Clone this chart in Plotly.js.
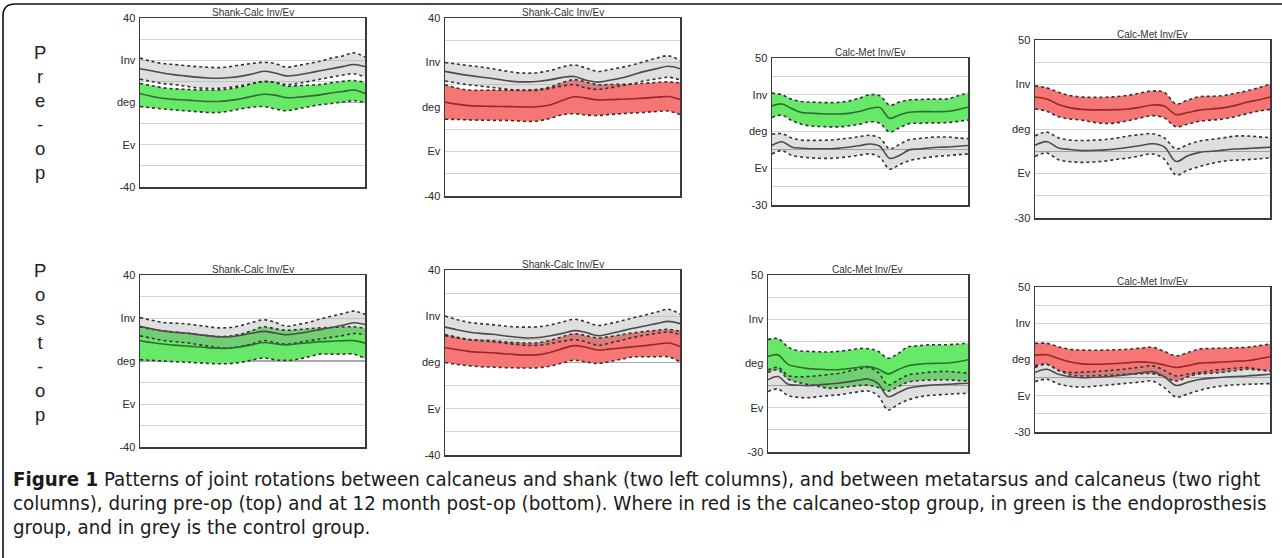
<!DOCTYPE html>
<html><head><meta charset="utf-8">
<script src="https://cdn.plot.ly/plotly-3.0.1.min.js"></script>
<style>html,body{margin:0;padding:0;background:#fff;}#chart{width:1282px;height:558px;}</style>
</head><body><div id="chart"></div>
<script>
// gait cycle (%)
const pct = [0,5,10,15,20,25,30,35,40,45,50,55,60,65,70,75,80,85,90,95,100];

// tick labels
const shankTickVals = [-40,-30,-20,-10,0,10,20,30,40];
const shankTickText = ['-40','','Ev','','deg','','Inv','','40'];
const metTickVals = [-30,-20,-10,0,10,20,30,40,50];
const metTickText = ['-30','','Ev','','deg','','Inv','','50'];

const panelTitles = ['Shank-Calc Inv/Ev','Shank-Calc Inv/Ev','Calc-Met Inv/Ev','Calc-Met Inv/Ev',
                     'Shank-Calc Inv/Ev','Shank-Calc Inv/Ev','Calc-Met Inv/Ev','Calc-Met Inv/Ev'];
const rowLabels = ['Pre-op','Post-op'];

// Panel 1: pre-op, shank-calc, endoprosthesis (green) vs control (grey)
const p1CtrlMean = [16,15,14,13.2,12.6,12,11.6,11.5,11.8,12.5,13.5,14.8,14,12.6,13,14,15,16,17,18,17];
const p1CtrlUp   = [21,19.5,18.5,18,17.5,17,16.7,16.5,17,17.8,18.5,19,18.5,16.7,17.5,18.5,19.5,21,22,23.5,21.5];
const p1CtrlLo   = [11,10,9,8.5,7.8,7,6.7,6.7,7.2,8,9,9.8,9.5,8.5,9,10,11,12,13,13.6,12];
const p1PatMean  = [4.3,3,2,1.5,1.2,0.8,0.5,0.5,1,1.8,3,3.9,3.5,2.3,2.5,3,3.6,4.5,5.2,5.9,4.3];
const p1PatUp    = [9,8,7,6.5,6.2,6,5.9,6,6.5,7.5,9,10,9.5,7.8,8,8.2,8.5,9.3,10,10.4,9.5];
const p1PatLo    = [-1.9,-2.5,-3,-3.5,-3.9,-4.3,-4.7,-4.7,-4,-3,-2.2,-1.9,-3,-3.9,-3,-2,-1.1,-0.5,0.2,0.8,0];

// Panel 2: pre-op, shank-calc, calcaneo-stop (red) vs control
const p2CtrlMean = [16,15,14.2,13.5,12.8,12,11.4,11.3,11.6,12.3,13.3,13.7,12,11.2,12,13,14.5,16,17.2,18.3,17.2];
const p2CtrlUp   = [20,19.3,18.6,18,17.2,16.3,15.5,15.2,15.5,16.5,18,18.9,17.5,16,16.8,17.8,19,20.5,22,23,21];
const p2CtrlLo   = [11.7,10.8,10,9.4,8.8,8.2,7.6,7.4,7.6,8.4,9.5,10,8.6,7.9,8.6,9.5,10.5,11.8,12.6,13.4,12.2];
const p2PatMean  = [2.2,1.3,0.6,0.4,0.3,0.2,0.1,0,0.2,1,3,4.6,4,3.2,3.3,3.5,3.7,4,4.4,4.7,3.4];
const p2PatUp    = [10,8.5,7.6,7.5,7.6,7.6,7.6,7.6,8,9,11,12.3,11.2,10,10.1,10.2,10.3,10.7,11,11.3,10.8];
const p2PatLo    = [-5.5,-5.6,-5.8,-5.9,-6,-6,-6.2,-6.5,-6.2,-5,-3.5,-3,-3.6,-3.8,-3.4,-3,-2.7,-2.4,-2,-1.8,-3.4];

// Panel 3: pre-op, calc-met, endoprosthesis vs control
const p3CtrlMean = [2.4,4.4,1.6,0.9,0.6,0.6,0.6,1,1.6,2.4,3.2,2,-4.6,-3,0,0.5,1,1.4,1.6,2,2.4];
const p3CtrlUp   = [8.5,8.8,6.5,5.3,5.2,5.2,5.4,5.9,6.5,7.3,7.9,6.5,0.6,3,5.5,6.2,6.8,7,7,6.5,6.1];
const p3CtrlLo   = [-2.2,-0.4,-3,-3.9,-4.4,-4.6,-4.6,-4.2,-3.6,-2.8,-2.2,-4,-10.5,-8,-5.9,-4.8,-4,-3.4,-3.1,-2.6,-2.2];
const p3PatMean  = [23.9,25,22.5,20.3,20,19.7,19.5,19.6,20,21,22.5,23,17.2,19,20.5,20.8,20.8,20.8,21,22,23.2];
const p3PatUp    = [30.9,30,27.5,26.3,26,25.8,25.7,26,26.8,28.3,30,29.5,24.4,26,27.2,27.4,27.6,27.6,27.8,29.5,30.9];
const p3PatLo    = [17.6,18.9,16,14,13,12.7,12.5,12.6,13.2,14,15.3,14.5,9.7,12,14.3,14.5,14.7,14.7,14.9,15.5,16.2];

// Panel 4: pre-op, calc-met, calcaneo-stop vs control
const p4CtrlMean = [2.7,4.3,1.5,0.8,0.3,0.4,0.6,1.1,1.8,2.6,3.4,2,-4.6,-2,-0.5,0,0.5,1,1.2,1.5,1.8];
const p4CtrlUp   = [6.9,8.6,6,5,4.8,5,5.3,6,6.9,7.5,7.9,6,1.1,3,4.6,5.3,6,6.8,6.9,6.5,6.1];
const p4CtrlLo   = [-2.3,-0.8,-3.8,-4.7,-5,-4.8,-4.4,-3.6,-3,-2,-1.2,-3.5,-10.7,-8.5,-6.9,-5.5,-4.5,-4,-3.8,-3.4,-3];
const p4PatMean  = [24.4,23.5,21,19.5,18.8,18.6,18.6,18.7,19,19.8,20.8,20.3,16.5,17.4,18.5,19,19.5,20.5,22,23,24.4];
const p4PatUp    = [29.4,28.5,26.5,25,24.4,24.2,24.3,24.6,25.2,26.2,27.1,26.5,21.3,23,24.5,24.7,25,26,27.1,28.5,30.2];
const p4PatLo    = [19,18,15.5,14.5,14,13,12.5,12.8,13.8,15,16,15,11,12.2,13.5,14,14.5,15.5,16.8,18,18.8];

// Panel 5: post-op, shank-calc, endoprosthesis vs control
const p5CtrlMean = [16.2,15,14,13.4,13,12.4,11.8,11.2,11.3,12,13,13.8,13,12.2,12.8,13.6,14.6,15.6,16.6,17.8,17];
const p5CtrlUp   = [20.2,19,18,17.6,17.3,16.7,16,15.4,15.6,16.5,18,19.2,18,16.2,17,18,19.5,20.8,22,23.2,21.7];
const p5CtrlLo   = [11.7,10.6,9.6,9,8.6,7.8,7,6.2,6,6.8,8,9.5,8.6,7.8,8.5,9.4,10.2,11,11.8,12.8,12.2];
const p5PatMean  = [9.5,8.6,7.9,7.4,7,6.6,6.2,5.9,6,6.6,7.6,8.6,8,7.5,8,8.5,9,9.2,9.4,9.5,8.3];
const p5PatUp    = [15.9,14.8,14,13.5,13,12.4,11.8,11.4,11.6,12.6,14.2,15.9,15,14.3,14.6,15,15.4,15.6,15.8,15.9,15.2];
const p5PatLo    = [0.6,0.3,0,-0.3,-0.5,-0.8,-1.1,-1.3,-1.2,-0.6,0.5,1.4,0.6,0.3,0.8,2,3.2,3.2,3.2,3.2,1.1];

// Panel 6: post-op, shank-calc, calcaneo-stop vs control
const p6CtrlMean = [15.3,14.2,13.2,12.6,12.2,11.6,11,10.6,10.8,11.6,12.6,13.8,13,11.6,12.4,13.6,14.8,15.8,16.8,17.8,16.8];
const p6CtrlUp   = [20.1,18.6,17.4,16.8,16.4,15.8,15.4,15.3,15.5,16.3,17.5,18.7,17.6,16,16.8,18,19.3,20.5,21.8,23,20.9];
const p6CtrlLo   = [11.6,10.6,9.9,9.4,9,8.4,7.8,7.4,7.5,8.2,9.2,9.9,9,7.4,8.4,9.6,10.8,11.8,12.6,13.2,12.1];
const p6PatMean  = [6.5,5.6,4.8,4.4,4.2,3.8,3.4,3.2,3.4,4.4,6,7.3,6.6,5.4,5.8,6.3,6.8,7.3,7.9,8.4,6.9];
const p6PatUp    = [12.1,11,10,9.6,9.4,9,8.6,8.4,8.6,9.6,11.2,12.4,11.6,10.6,11.2,12,12.8,13.4,13.9,14.3,13.5];
const p6PatLo    = [0,-0.8,-1.4,-1.8,-2,-2.2,-2.3,-2.4,-2.2,-1.5,-0.2,1,0.2,-0.4,0.4,1.4,2.4,2.5,2.5,2.5,0.3];

// Panel 7: post-op, calc-met, endoprosthesis vs control
const p7CtrlMean = [2.6,4.1,0.6,0.2,0,0.3,0.7,1.1,1.7,2.4,3,1,-5,-3.2,-1.2,-0.4,0.1,0.4,0.6,0.9,1.1];
const p7CtrlUp   = [7.1,8.2,4.6,4,4.1,4.5,5,5.5,6.4,7.4,8.2,6,0.3,2.5,4.8,5.5,6,6.3,6.4,6,5.6];
const p7CtrlLo   = [-2.7,-1.5,-4.5,-5.3,-5.5,-5,-4.5,-4.2,-3.5,-2.8,-2.4,-4.5,-11,-8.5,-6.5,-5.2,-4.5,-4.2,-3.9,-3.6,-3.5];
const p7PatMean  = [13.2,13.9,9.6,8.4,7.7,7.4,7.2,7.2,7.6,8.2,8.6,7.5,5.3,7.2,9,9.6,10,10.1,10.2,10.8,11.7];
const p7PatUp    = [20.8,21.2,17.5,15.8,15.5,15.3,15.2,15.5,16,16.7,16.7,15.5,12.4,14.5,17.5,18,18.4,18.5,18.5,18.8,19.2];
const p7PatLo    = [5.9,7.1,3,1.5,0.5,-0.3,-1.2,-1,-0.5,0,0.2,-0.8,-2.4,-0.5,1.6,2.2,2.5,2.6,2.6,2.3,2.1];

// Panel 8: post-op, calc-met, calcaneo-stop vs control
const p8CtrlMean = [2.8,4.6,1.8,0.5,0,0.2,0.5,1,1.7,2.6,3.3,0.5,-4.3,-2.5,-1,-0.3,0.2,0.6,0.9,1.4,1.9];
const p8CtrlUp   = [5.6,7.4,4,2.8,3,3.3,3.8,4.3,5,5.8,6.5,4,0.9,2,2.8,3.8,4.6,5.2,5.6,4.6,3.7];
const p8CtrlLo   = [-2.2,-0.9,-3.5,-4.8,-5.2,-4.8,-4.2,-3.6,-3,-2.4,-1.9,-5.5,-10.7,-9,-7,-5.5,-4.5,-4,-3.7,-3.5,-3.3];
const p8PatMean  = [12.4,12.6,10.5,8.6,7.6,7.4,7.5,7.8,8.3,8.7,8.2,7,5.6,6.6,8,8.3,8.6,9,9.3,10.3,11.5];
const p8PatUp    = [18.9,18.9,17,15.6,15.2,15.1,15.2,15.4,15.7,16.3,16.7,14.5,12,13.8,15.8,16.1,16.3,16.5,16.7,17.6,18.5];
const p8PatLo    = [6.5,7.4,4,1.5,0.9,1,1.2,1.5,1.9,2.1,2.2,0.5,-1.9,0.5,2,2.4,3,3.8,4.6,4.2,3.7];

const W = 1282, H = 558;
const GREEN = {fill:'rgb(104,232,104)', line:'rgb(46,110,46)'};
const RED   = {fill:'rgb(246,118,118)', line:'rgb(150,40,40)'};
const CTRL  = {fill:'rgba(140,140,140,0.28)', line:'rgb(75,75,75)'};

const panels = [
  {box:[140,18,365,187], met:false, grp:GREEN, c:[p1CtrlMean,p1CtrlUp,p1CtrlLo], p:[p1PatMean,p1PatUp,p1PatLo]},
  {box:[445,18,680,196], met:false, grp:RED,   c:[p2CtrlMean,p2CtrlUp,p2CtrlLo], p:[p2PatMean,p2PatUp,p2PatLo]},
  {box:[772,58,968,205], met:true,  grp:GREEN, c:[p3CtrlMean,p3CtrlUp,p3CtrlLo], p:[p3PatMean,p3PatUp,p3PatLo]},
  {box:[1035,40,1270,218], met:true, grp:RED,  c:[p4CtrlMean,p4CtrlUp,p4CtrlLo], p:[p4PatMean,p4PatUp,p4PatLo]},
  {box:[140,275,365,447], met:false, grp:GREEN, c:[p5CtrlMean,p5CtrlUp,p5CtrlLo], p:[p5PatMean,p5PatUp,p5PatLo]},
  {box:[445,270,680,455], met:false, grp:RED,   c:[p6CtrlMean,p6CtrlUp,p6CtrlLo], p:[p6PatMean,p6PatUp,p6PatLo]},
  {box:[768,275,968,452], met:true,  grp:GREEN, c:[p7CtrlMean,p7CtrlUp,p7CtrlLo], p:[p7PatMean,p7PatUp,p7PatLo]},
  {box:[1035,287,1270,432], met:true, grp:RED,  c:[p8CtrlMean,p8CtrlUp,p8CtrlLo], p:[p8PatMean,p8PatUp,p8PatLo]}
];

const traces = [];
const layout = {
  width: W, height: H, margin:{l:0,r:0,t:0,b:0}, showlegend:false,
  paper_bgcolor:'#fff', plot_bgcolor:'#fff',
  font:{family:'Liberation Sans, Arial, sans-serif', color:'#333'},
  annotations: [], shapes: []
};

panels.forEach((pn, i) => {
  const n = i + 1;
  const xa = 'x' + (n===1?'':n), ya = 'y' + (n===1?'':n);
  const xk = 'xaxis' + (n===1?'':n), yk = 'yaxis' + (n===1?'':n);
  const [x0,y0,x1,y1] = pn.box;
  layout[xk] = {domain:[x0/W, x1/W], range:[0,100], anchor:ya, showgrid:false, zeroline:false,
    showticklabels:false, ticks:'', showline:true, mirror:true, linecolor:'#3a3a3a', linewidth:1.5, fixedrange:true};
  layout[yk] = {domain:[1-y1/H, 1-y0/H], range: pn.met?[-30,50]:[-40,40], anchor:xa,
    tickvals: pn.met?metTickVals:shankTickVals, ticktext: pn.met?metTickText:shankTickText,
    tickmode:'array', showgrid:true, gridcolor:'#d4d4d4', gridwidth:1,
    zeroline:true, zerolinecolor:'#a9a9a9', zerolinewidth:1.2,
    showline:true, mirror:true, linecolor:'#3a3a3a', linewidth:1.5, ticks:'',
    tickfont:{size:11, color:'#2a2a2a', family:'Liberation Sans, Arial, sans-serif'}, ticklabelstandoff:1, fixedrange:true};
  const common = {xaxis:xa, yaxis:ya, x:pct, mode:'lines', hoverinfo:'skip'};
  // patient band
  traces.push(Object.assign({}, common, {y:pn.p[2], line:{width:0, shape:'spline'}}));
  traces.push(Object.assign({}, common, {y:pn.p[1], line:{width:0, shape:'spline'}, fill:'tonexty', fillcolor:pn.grp.fill}));
  // control band
  traces.push(Object.assign({}, common, {y:pn.c[2], line:{width:0, shape:'spline'}}));
  traces.push(Object.assign({}, common, {y:pn.c[1], line:{width:0, shape:'spline'}, fill:'tonexty', fillcolor:CTRL.fill}));
  // dashed SD lines
  [pn.p[1], pn.p[2], pn.c[1], pn.c[2]].forEach(arr => {
    traces.push(Object.assign({}, common, {y:arr, line:{width:1.6, color:'#333', dash:'3px,3px', shape:'spline'}}));
  });
  // means
  traces.push(Object.assign({}, common, {y:pn.c[0], line:{width:1.6, color:CTRL.line, shape:'spline'}}));
  traces.push(Object.assign({}, common, {y:pn.p[0], line:{width:1.6, color:pn.grp.line, shape:'spline'}}));
  // title
  layout.annotations.push({text:panelTitles[i], xref:'paper', yref:'paper', x:(x0+x1)/2/W, y:1-(y0+2)/H,
    xanchor:'center', yanchor:'bottom', showarrow:false, font:{size:10, color:'#333', family:'Liberation Sans, Arial, sans-serif'}});
});

// row labels (vertical letters)
const rowY = [52, 270];
rowLabels.forEach((lab, r) => {
  layout.annotations.push({text: lab.split('').join('<br>'), xref:'paper', yref:'paper', x:40/W, y:1-(rowY[r]-12)/H,
    xanchor:'center', yanchor:'top', align:'center', showarrow:false,
    font:{size:18.5, color:'#222', family:'Liberation Sans, Arial, sans-serif'}});
});

// caption
const capFont = {size:20.3, color:'#1a1a1a', family:'DejaVu Sans Condensed, DejaVu Sans, sans-serif'};
const capLines = [
  '<b>Figure 1</b> Patterns of joint rotations between calcaneus and shank (two left columns), and between metatarsus and calcaneus (two right',
  'columns), during pre-op (top) and at 12 month post-op (bottom). Where in red is the calcaneo-stop group, in green is the endoprosthesis',
  'group, and in grey is the control group.'
];
const capY = [479, 503, 527];
capLines.forEach((t, k) => {
  layout.annotations.push({text:t, xref:'paper', yref:'paper', x:12/W, y:1-capY[k]/H, xanchor:'left', yanchor:'middle',
    showarrow:false, align:'left', borderpad:0, font:capFont});
});

// outer frame with rounded top-left corner
const fx = 3/W, fyTop = 1-4/H, rX = 12/W, rY = 12/H;
layout.shapes.push({type:'path', xref:'paper', yref:'paper',
  path:`M ${fx},0 L ${fx},${fyTop-rY} Q ${fx},${fyTop} ${fx+rX},${fyTop} L 1,${fyTop}`,
  line:{color:'#111', width:1.6}});

Plotly.newPlot('chart', traces, layout, {staticPlot:true, displayModeBar:false});
</script></body></html>
